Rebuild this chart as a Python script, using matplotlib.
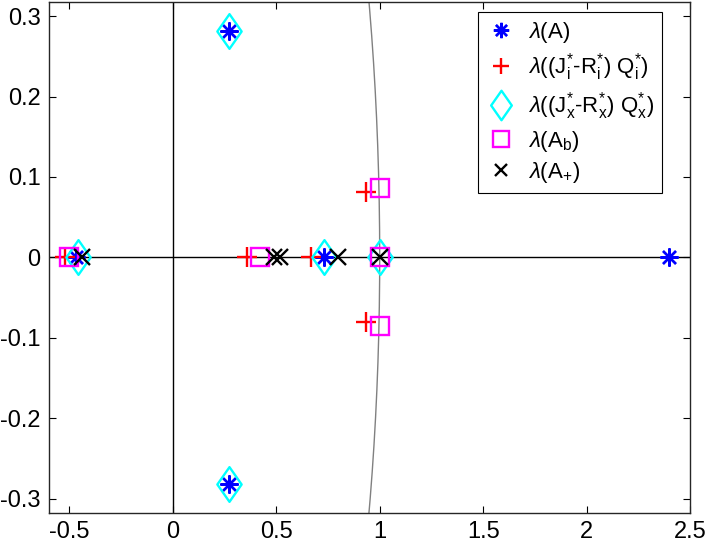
import numpy as np
import matplotlib
matplotlib.use('Agg')
import matplotlib.pyplot as plt
from matplotlib.ticker import FuncFormatter
from matplotlib.path import Path

plt.rcParams['font.family'] = 'Liberation Sans'
plt.rcParams['mathtext.fontset'] = 'custom'
plt.rcParams['mathtext.rm'] = 'Liberation Sans'
plt.rcParams['mathtext.it'] = 'Liberation Sans:italic'
plt.rcParams['axes.unicode_minus'] = False

eig_A_re = [-0.47, 0.27, 0.27, 0.73, 2.40]
eig_A_im = [0.0, 0.282, -0.282, 0.0, 0.0]

eig_i_re = [-0.52, 0.36, 0.67, 0.935, 0.935]
eig_i_im = [0.0, 0.0, 0.0, 0.081, -0.081]

eig_x_re = [-0.46, 0.27, 0.27, 0.73, 1.0]
eig_x_im = [0.0, 0.282, -0.282, 0.0, 0.0]

eig_b_re = [-0.50, 0.42, 1.0, 1.0, 1.0]
eig_b_im = [0.0, 0.0, 0.0, 0.086, -0.086]

eig_p_re = [-0.44, 0.49, 0.52, 0.80, 1.0]
eig_p_im = [0.0, 0.0, 0.0, 0.0, 0.0]

labels = [r'$\lambda$(A)',
          r'$\lambda$((J$^{*}_{\mathrm{i}}$-R$^{*}_{\mathrm{i}}$) Q$^{*}_{\mathrm{i}}$)',
          r'$\lambda$((J$^{*}_{\mathrm{x}}$-R$^{*}_{\mathrm{x}}$) Q$^{*}_{\mathrm{x}}$)',
          r'$\lambda$(A$_{\mathrm{b}}$)',
          r'$\lambda$(A$_{+}$)']

# matlab-like diamond (wider than mpl 'd')
diamond = Path([(0, 1), (0.7, 0), (0, -1), (-0.7, 0), (0, 1)],
               [Path.MOVETO, Path.LINETO, Path.LINETO, Path.LINETO, Path.CLOSEPOLY])

fig = plt.figure(figsize=(7.08, 5.49), dpi=100)
ax = fig.add_axes([0.0688, 0.0656, 0.9058, 0.9313])

# unit circle
t = np.linspace(0, 2 * np.pi, 721)
ax.plot(np.cos(t), np.sin(t), color=(0.5, 0.5, 0.5), lw=1.0, zorder=1)
ax.axhline(0, color='k', lw=1.0, zorder=1)
ax.axvline(0, color='k', lw=1.0, zorder=1)

ax.plot(eig_A_re, eig_A_im, ls='none', marker=(8, 2, 0), ms=13, mew=1.7,
        color='#0000FF', label=labels[0], zorder=3)
ax.plot(eig_i_re, eig_i_im, ls='none', marker='+', ms=14, mew=1.7,
        color='#FF0000', label=labels[1], zorder=3)
ax.plot(eig_x_re, eig_x_im, ls='none', marker=diamond, ms=25, mew=1.7,
        color='#00FFFF', mfc='none', label=labels[2], zorder=3)
ax.plot(eig_b_re, eig_b_im, ls='none', marker='s', ms=13, mew=1.7,
        color='#FF00FF', mfc='none', label=labels[3], zorder=3)
ax.plot(eig_p_re, eig_p_im, ls='none', marker='x', ms=11, mew=1.7,
        color='k', label=labels[4], zorder=3)

ax.set_xlim(-0.6, 2.5)
ax.set_ylim(-0.318, 0.318)
ax.set_xticks(np.arange(-0.5, 2.51, 0.5))
ax.set_yticks(np.arange(-0.3, 0.301, 0.1))
fmt = FuncFormatter(lambda v, p: '%g' % round(v, 2))
ax.xaxis.set_major_formatter(fmt)
ax.yaxis.set_major_formatter(fmt)
ax.tick_params(direction='in', top=True, right=True, length=5, width=0.8,
               labelsize=17, pad=6)
for s in ax.spines.values():
    s.set_linewidth(1.0)
    s.set_color((0.15, 0.15, 0.15))

leg = ax.legend(loc='upper right', bbox_to_anchor=(0.956, 0.980),
                borderaxespad=0, fontsize=16, fancybox=False, framealpha=1,
                edgecolor='k', handletextpad=0.5, labelspacing=0.3,
                handlelength=1.4, borderpad=0.35, markerscale=0.85)
leg.get_frame().set_linewidth(0.8)

fig.savefig('out.png', dpi=100)
